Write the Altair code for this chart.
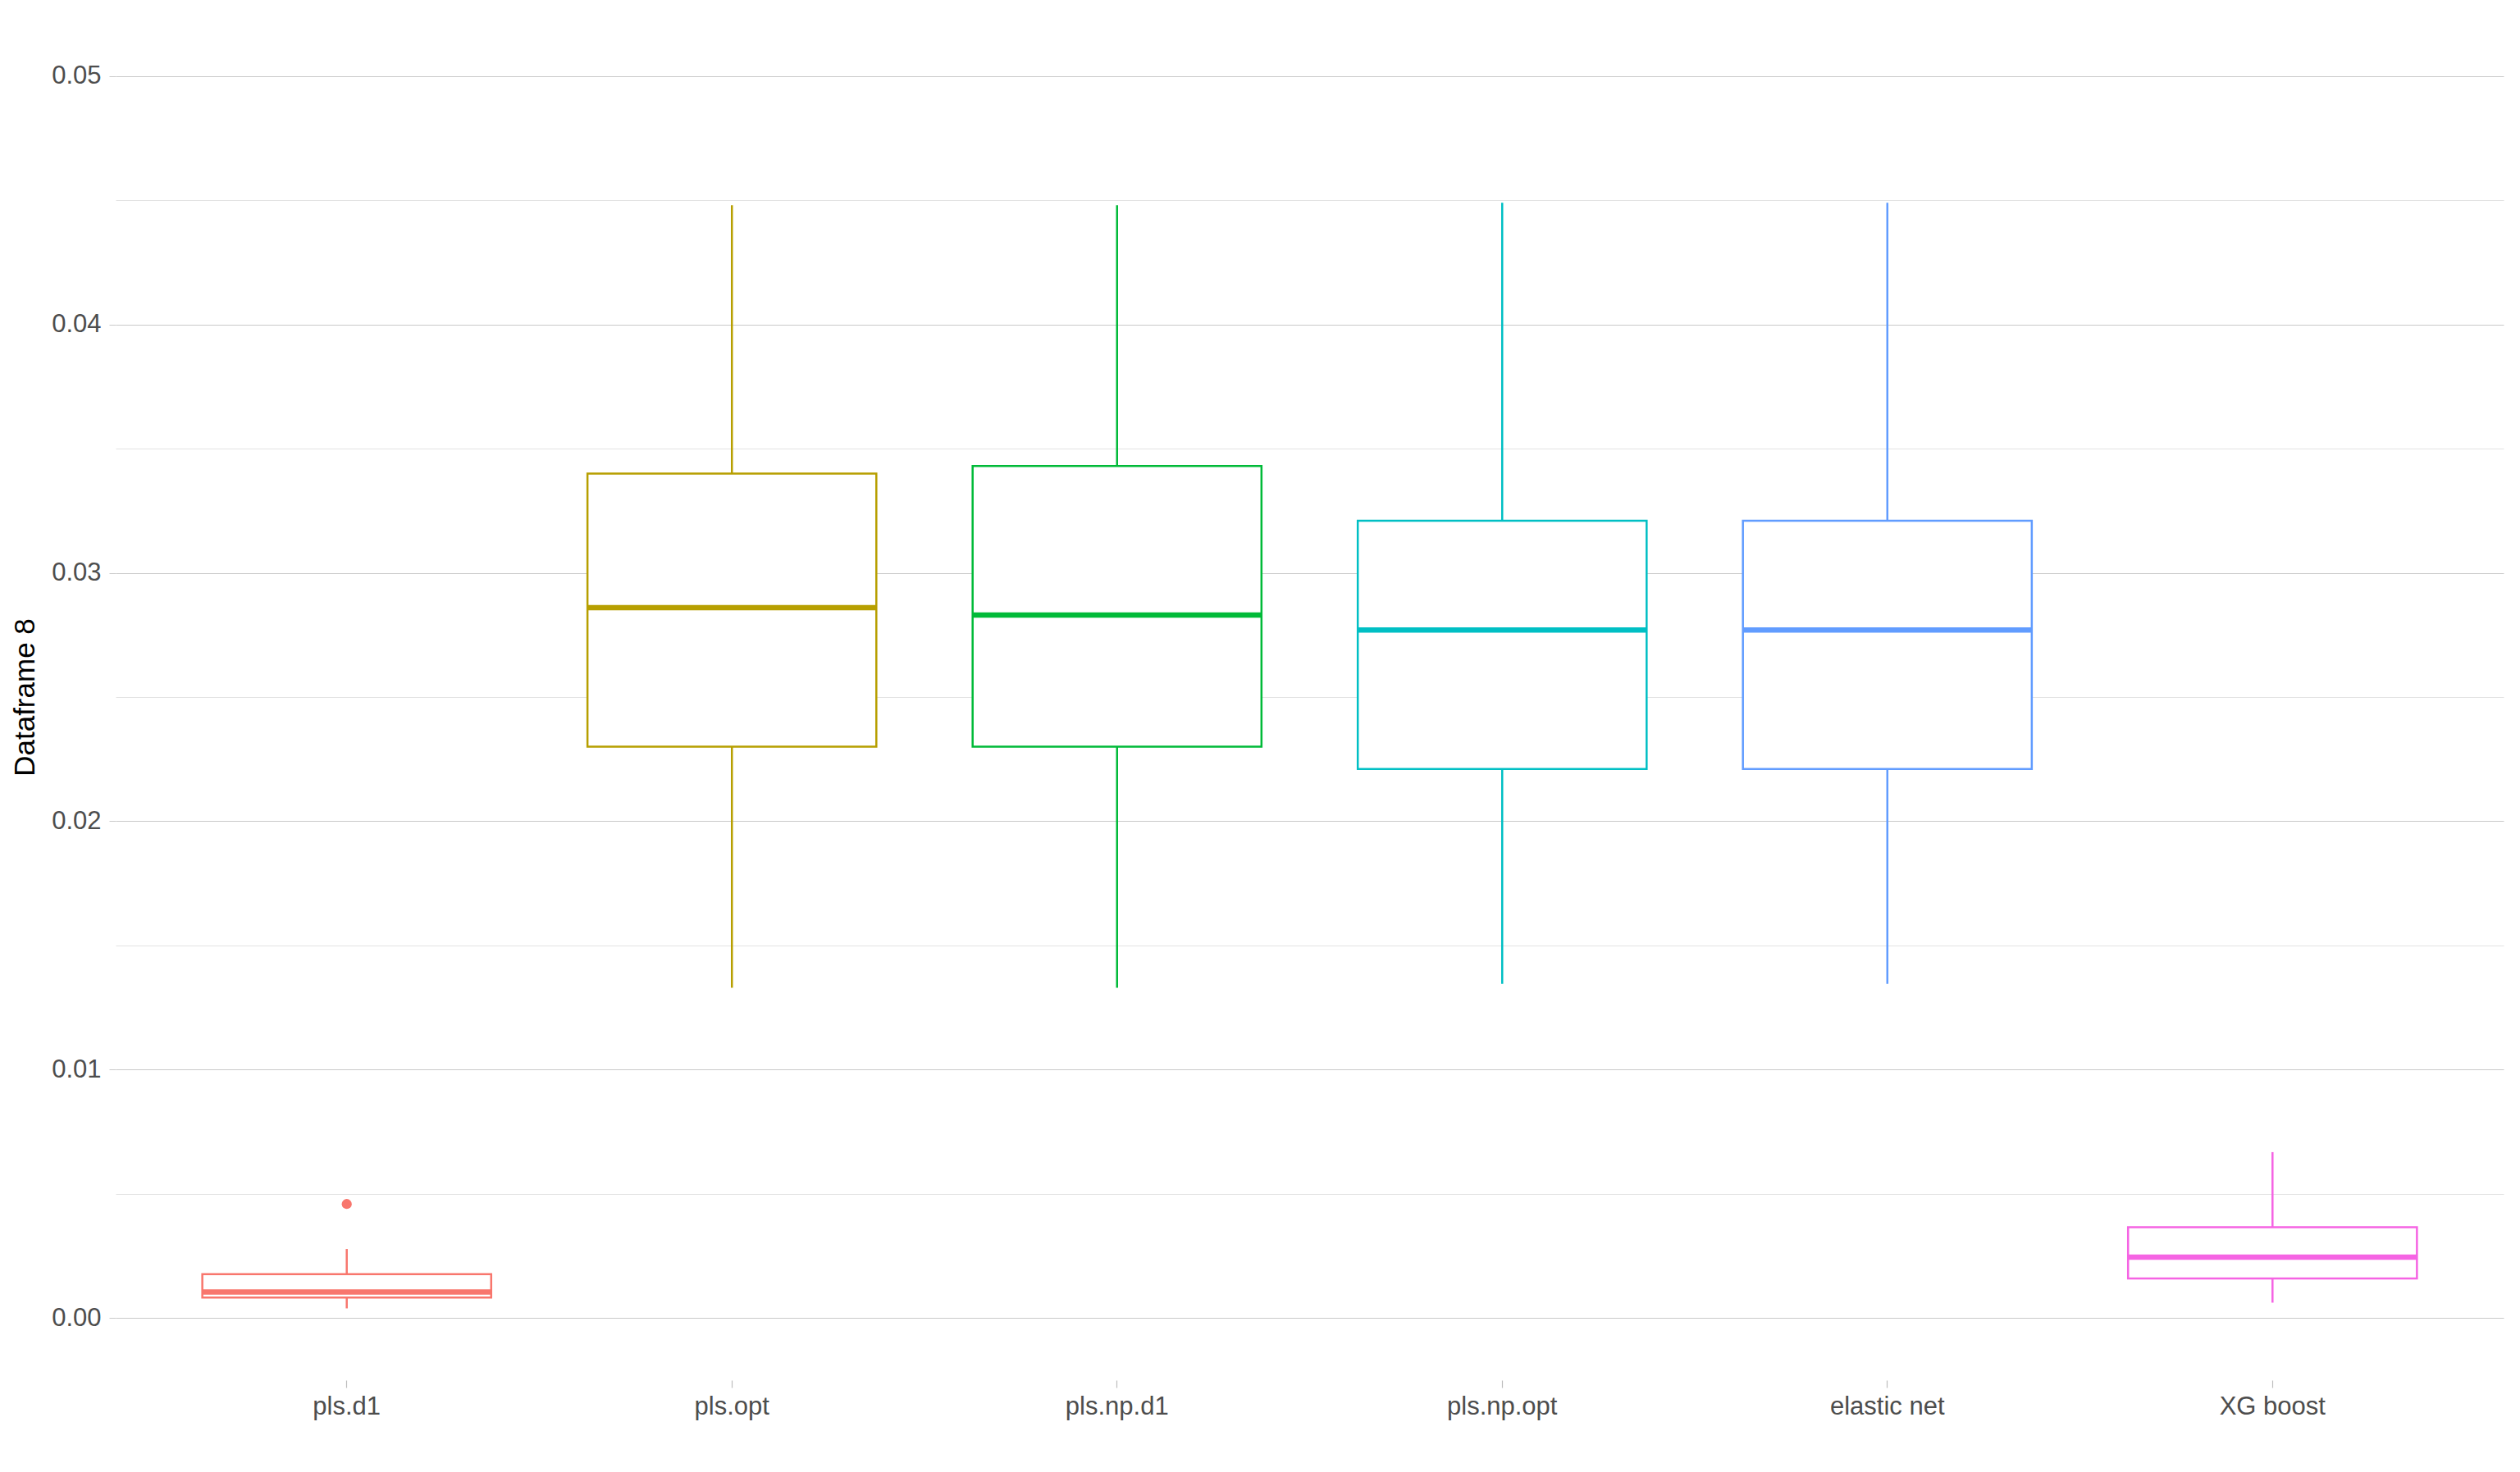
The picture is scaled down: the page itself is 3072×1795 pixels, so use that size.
import altair as alt
import pandas as pd

categories = ["pls.d1", "pls.opt", "pls.np.d1", "pls.np.opt", "elastic net", "XG boost"]
lower_whisker = [0.00039, 0.0133, 0.0133, 0.01345, 0.01345, 0.00062]
q1 = [0.00083, 0.0230, 0.0230, 0.0221, 0.0221, 0.00159]
median = [0.00105, 0.0286, 0.0283, 0.0277, 0.0277, 0.00245]
q3 = [0.00177, 0.0340, 0.0343, 0.0321, 0.0321, 0.00366]
upper_whisker = [0.00278, 0.0448, 0.0448, 0.0449, 0.0449, 0.00668]
outlier_cat = ["pls.d1"]
outlier_val = [0.00459]
palette = ["#F8766D", "#B79F00", "#00BA38", "#00BFC4", "#619CFF", "#F564E3"]
y_tick_values = [0.0, 0.005, 0.01, 0.015, 0.02, 0.025, 0.03, 0.035, 0.04, 0.045, 0.05]

df = pd.DataFrame({
    "method": categories,
    "lo": lower_whisker,
    "q1": q1,
    "med": median,
    "q3": q3,
    "hi": upper_whisker,
})
out_df = pd.DataFrame({"method": outlier_cat, "value": outlier_val})

FONT = "Liberation Sans"
W, H = 2911, 1666
step = W / 6.2
box_w = step * 0.75

is_major = "round(datum.value * 1000) % 10 === 0"

x_enc = alt.X(
    "method:N",
    sort=categories,
    scale=alt.Scale(domain=categories, paddingInner=0, paddingOuter=0.1),
    axis=alt.Axis(
        title=None, domain=False, grid=False, ticks=True, tickSize=9,
        tickColor="#BDBDBD", tickWidth=1.2, labelAngle=0, labelFont=FONT,
        labelFontSize=31, labelColor="#4D4D4D", labelPadding=8,
    ),
)
y_scale = alt.Scale(domain=[-0.0025, 0.0525], nice=False, zero=False)
y_axis = alt.Axis(
    title="Dataframe 8", values=y_tick_values, domain=False, grid=True,
    gridColor={"condition": {"test": is_major, "value": "#C9C9C9"}, "value": "#E3E3E3"},
    gridWidth=1.2,
    tickSize=8, tickColor="#C9C9C9",
    tickOpacity={"condition": {"test": is_major, "value": 1}, "value": 0},
    labelExpr=f"{is_major} ? format(datum.value, '.2f') : ''",
    labelFont=FONT, labelFontSize=31, labelColor="#4D4D4D", labelPadding=10,
    titleFont=FONT, titleFontSize=35, titleFontWeight="normal", titleColor="#000000",
    titlePadding=14,
)
color_enc = alt.Color("method:N", scale=alt.Scale(domain=categories, range=palette), legend=None)

base = alt.Chart(df)

whisk_low = base.mark_rule(strokeWidth=2.5, opacity=1).encode(
    x=x_enc, y=alt.Y("lo:Q", scale=y_scale, axis=y_axis), y2="q1:Q", color=color_enc)
whisk_high = base.mark_rule(strokeWidth=2.5, opacity=1).encode(
    x=x_enc, y=alt.Y("q3:Q", scale=y_scale, axis=y_axis), y2="hi:Q", color=color_enc)
boxes = base.mark_bar(fill="white", strokeWidth=2.5, width=box_w, opacity=1).encode(
    x=x_enc, y=alt.Y("q1:Q", scale=y_scale, axis=y_axis), y2="q3:Q", stroke=color_enc)
medians = base.mark_tick(size=box_w, thickness=6.5, opacity=1).encode(
    x=x_enc, y=alt.Y("med:Q", scale=y_scale, axis=y_axis), color=color_enc)
outliers = alt.Chart(out_df).mark_circle(size=150, opacity=1).encode(
    x=x_enc, y=alt.Y("value:Q", scale=y_scale, axis=y_axis), color=color_enc)

chart = alt.layer(whisk_low, whisk_high, boxes, medians, outliers).properties(
    width=W, height=H,
    autosize=alt.AutoSizeParams(type="none"),
    padding={"left": 141, "top": 17, "right": 20, "bottom": 112},
    background="white",
).configure_view(stroke=None)

chart.save("out.html", embed_options={"renderer": "svg", "actions": False})
